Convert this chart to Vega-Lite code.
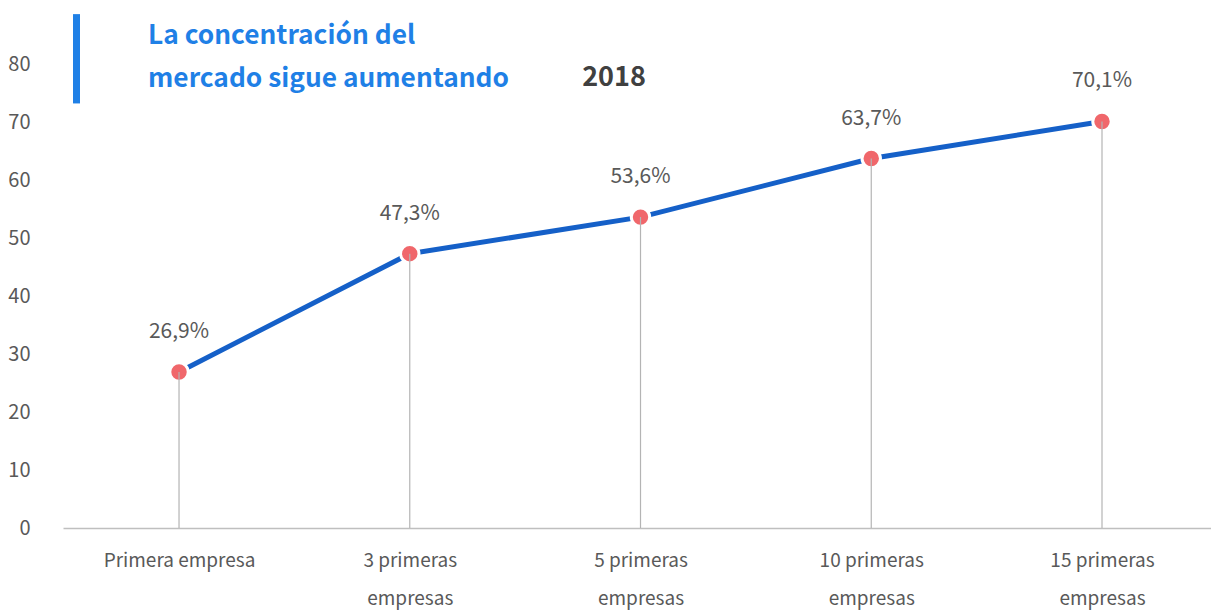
{
  "$schema": "https://vega.github.io/schema/vega-lite/v6.json",
  "autosize": {"type": "none"},
  "width": 1148,
  "height": 464,
  "padding": {"left": 63, "top": 64, "right": 0, "bottom": 83},
  "background": "white",
  "config": {
    "view": {"stroke": null},
    "font": "Noto Sans CJK JP"
  },
  "data": {
    "values": [
      {"grupo": "Primera empresa", "cuota": 26.9, "etiqueta": "26,9%"},
      {"grupo": "3 primeras empresas", "cuota": 47.3, "etiqueta": "47,3%"},
      {"grupo": "5 primeras empresas", "cuota": 53.6, "etiqueta": "53,6%"},
      {"grupo": "10 primeras empresas", "cuota": 63.7, "etiqueta": "63,7%"},
      {"grupo": "15 primeras empresas", "cuota": 70.1, "etiqueta": "70,1%"}
    ]
  },
  "encoding": {
    "x": {
      "field": "grupo", "type": "nominal", "sort": null,
      "scale": {"type": "point", "padding": 0.4876, "align": 0.5156},
      "axis": {
        "title": null, "labelAngle": 0, "ticks": false, "grid": false,
        "domainColor": "#bfbfbf", "domainWidth": 1.5,
        "labelFont": "Noto Sans CJK JP", "labelFontSize": 19, "labelColor": "#595959",
        "labelPadding": 23, "labelBaseline": "top", "labelLineHeight": 38,
        "labelExpr": "split(replace(datum.label, ' empresas', '|empresas'), '|')"
      }
    },
    "y": {
      "field": "cuota", "type": "quantitative",
      "scale": {"domain": [0, 80], "nice": false},
      "axis": {
        "title": null, "domain": false, "ticks": false, "grid": false,
        "values": [0, 10, 20, 30, 40, 50, 60, 70, 80],
        "labelFont": "Noto Sans CJK JP", "labelFontSize": 20, "labelColor": "#595959",
        "labelPadding": 33
      }
    }
  },
  "layer": [
    {"mark": {"type": "line", "color": "#1560c8", "strokeWidth": 5}},
    {"mark": {"type": "point", "filled": true, "fill": "#f0676b", "size": 340, "stroke": "white", "strokeWidth": 3, "opacity": 1}},
    {"mark": {"type": "rule", "color": "#b4b4b4", "strokeWidth": 1.2}, "encoding": {"y2": {"datum": 0}}},
    {"mark": {"type": "text", "dy": -40, "fontSize": 21, "color": "#595959", "baseline": "middle"}, "encoding": {"text": {"field": "etiqueta"}}},
    {
      "transform": [{"filter": "datum.grupo == 'Primera empresa'"}],
      "mark": {"type": "rule", "color": "#1f80e6", "strokeWidth": 7, "strokeCap": "butt", "xOffset": -102.5},
      "encoding": {"y": {"datum": 88.6}, "y2": {"datum": 73.2}}
    },
    {
      "transform": [{"filter": "datum.grupo == 'Primera empresa'"}],
      "mark": {"type": "text", "align": "left", "baseline": "middle", "dx": -31, "fontSize": 26.3, "fontWeight": "bold", "color": "#1f80e6", "lineHeight": 43,
        "text": ["La concentración del", "mercado sigue aumentando"]},
      "encoding": {"y": {"datum": 84.75}}
    },
    {
      "transform": [{"filter": "datum.grupo == 'Primera empresa'"}],
      "mark": {"type": "text", "align": "center", "baseline": "middle", "dx": 435, "fontSize": 27, "fontWeight": "bold", "color": "#404040", "text": "2018"},
      "encoding": {"y": {"datum": 77.6}}
    }
  ]
}
